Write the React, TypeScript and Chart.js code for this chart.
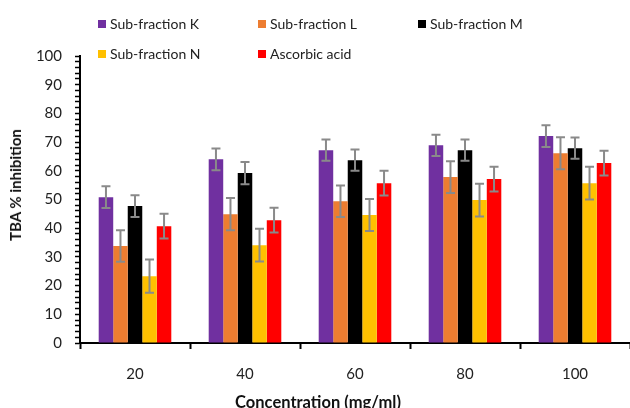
import React, { useEffect, useRef } from "react";
import { Chart, registerables } from "chart.js";

Chart.register(...registerables);

// Concentration groups on the x axis
const concentrations = ["20", "40", "60", "80", "100"];

// Mean TBA % inhibition for each sample
const subFractionK = [50.8, 64.0, 67.2, 68.9, 72.1];
const subFractionL = [33.8, 44.9, 49.4, 57.8, 66.1];
const subFractionM = [47.7, 59.2, 63.7, 67.2, 67.9];
const subFractionN = [23.3, 34.1, 44.6, 49.8, 55.7];
const ascorbicAcid = [40.7, 42.8, 55.7, 57.1, 62.7];

// Standard deviations drawn as error bars
const errK = [3.8, 3.8, 3.7, 3.7, 3.8];
const errL = [5.5, 5.6, 5.5, 5.5, 5.6];
const errM = [3.8, 3.9, 3.7, 3.7, 3.7];
const errN = [5.8, 5.7, 5.6, 5.7, 5.7];
const errAA = [4.3, 4.3, 4.3, 4.3, 4.3];

const seriesNames = ["Sub-fraction K", "Sub-fraction L", "Sub-fraction M", "Sub-fraction N", "Ascorbic acid"];
const seriesColors = ["#7030A0", "#ED7D31", "#000000", "#FFC000", "#FF0000"];

const FONT = "Lato, 'Open Sans', sans-serif";

const errorBarPlugin = {
  id: "errorBars",
  afterDatasetsDraw(chart: any) {
    const ctx = chart.ctx;
    const yScale = chart.scales.y;
    ctx.save();
    ctx.strokeStyle = "#8a8a8a";
    ctx.lineWidth = 2;
    chart.data.datasets.forEach((ds: any, di: number) => {
      const meta = chart.getDatasetMeta(di);
      meta.data.forEach((bar: any, i: number) => {
        const v = ds.data[i];
        const e = ds.errors[i];
        const x = bar.x;
        const yTop = yScale.getPixelForValue(v + e);
        const yBot = yScale.getPixelForValue(v - e);
        const cap = 4.5;
        ctx.beginPath();
        ctx.moveTo(x, yTop);
        ctx.lineTo(x, yBot);
        ctx.moveTo(x - cap, yTop);
        ctx.lineTo(x + cap, yTop);
        ctx.moveTo(x - cap, yBot);
        ctx.lineTo(x + cap, yBot);
        ctx.stroke();
      });
    });
    ctx.restore();
  },
};

export default function App() {
  const canvasRef = useRef<HTMLCanvasElement | null>(null);

  useEffect(() => {
    const values = [subFractionK, subFractionL, subFractionM, subFractionN, ascorbicAcid];
    const errors = [errK, errL, errM, errN, errAA];
    const chart = new Chart(canvasRef.current as HTMLCanvasElement, {
      type: "bar",
      data: {
        labels: concentrations,
        datasets: seriesNames.map((name, i) => ({
          label: name,
          data: values[i],
          errors: errors[i],
          backgroundColor: seriesColors[i],
          borderWidth: 0,
          barPercentage: 1,
          categoryPercentage: 0.66,
        })) as any,
      },
      options: {
        responsive: false,
        animation: false,
        layout: { padding: { left: 24, right: 0, top: 56, bottom: 0 } },
        plugins: {
          legend: { display: false },
          tooltip: { enabled: false },
        },
        scales: {
          x: {
            grid: {
              offset: true,
              drawOnChartArea: false,
              tickLength: 6,
              tickColor: "#000",
              tickWidth: 2,
            },
            border: { display: true, color: "#000", width: 2 },
            ticks: {
              color: "#222",
              font: { family: FONT, size: 15 },
              padding: 16,
            },
            afterFit(scale: any) {
              scale.height = 65;
            },
          },
          y: {
            min: 0,
            max: 100,
            grid: {
              drawOnChartArea: false,
              tickLength: 5,
              tickColor: "#000",
              tickWidth: 1.5,
            },
            border: { display: true, color: "#000", width: 2 },
            ticks: {
              stepSize: 2,
              autoSkip: false,
              color: "#222",
              font: { family: FONT, size: 15 },
              padding: 13,
              callback: (v: any) => (Number(v) % 10 === 0 ? String(v) : ""),
            },
            afterFit(scale: any) {
              scale.width = 56;
            },
          },
        },
      },
      plugins: [errorBarPlugin],
    });
    return () => chart.destroy();
  }, []);

  const legendRows = [
    [0, 1, 2],
    [3, 4],
  ];

  return (
    <div style={{ position: "fixed", left: 0, top: 0, width: 630, height: 408, background: "#fff", overflow: "hidden" }}>
      <canvas ref={canvasRef} width={630} height={408} style={{ position: "absolute", left: 0, top: 0 }} />
      {legendRows.map((row, r) =>
        row.map((si, c) => (
          <div
            key={si}
            style={{
              position: "absolute",
              left: 98 + c * 160,
              top: 15 + r * 30,
              height: 17,
              display: "flex",
              alignItems: "center",
              fontFamily: FONT,
              fontSize: 14,
              color: "#222",
              whiteSpace: "nowrap",
            }}
          >
            <span style={{ display: "inline-block", width: 8, height: 8, background: seriesColors[si], marginRight: 4 }} />
            {seriesNames[si]}
          </div>
        ))
      )}
      <div
        style={{
          position: "absolute",
          left: 15,
          top: 185,
          transform: "translate(-50%, -50%) rotate(-90deg)",
          fontFamily: FONT,
          fontWeight: 700,
          fontSize: 15,
          color: "#111",
          whiteSpace: "nowrap",
        }}
      >
        TBA % inhibition
      </div>
      <div
        style={{
          position: "absolute",
          left: 318,
          top: 402,
          transform: "translate(-50%, -50%)",
          fontFamily: FONT,
          fontWeight: 700,
          fontSize: 16.5,
          color: "#111",
          whiteSpace: "nowrap",
        }}
      >
        Concentration (mg/ml)
      </div>
    </div>
  );
}
